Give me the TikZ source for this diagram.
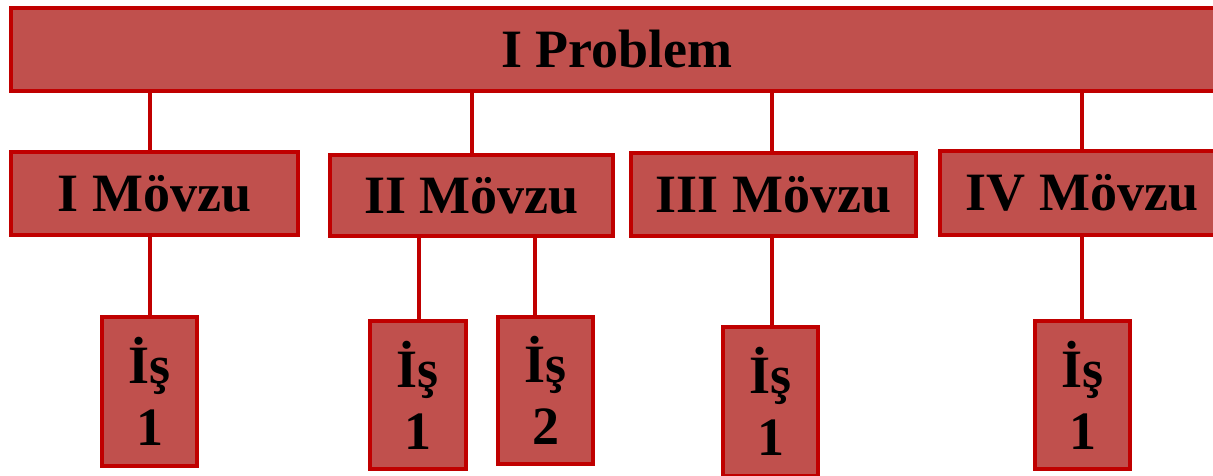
\documentclass[tikz,border=0pt]{standalone}
\usepackage{fontspec}
\setmainfont{Liberation Serif}
\definecolor{boxfill}{HTML}{C0504D}
\definecolor{boxline}{HTML}{C00000}
\tikzset{
  box/.style={draw=boxline, fill=boxfill, line width=4pt, rectangle, inner sep=0pt,
    font=\bfseries\fontsize{54}{62}\selectfont, align=center, text=black},
  link/.style={draw=boxline, line width=4pt}
}
\begin{document}
\begin{tikzpicture}[x=1pt,y=1pt]
\useasboundingbox (0,0) rectangle (1213,-475);
\fill[white] (0,0) rectangle (1213,-475);
\clip (0,0) rectangle (1213,-475);
% connector x positions
\coordinate (x1) at (150,0);
\coordinate (x2) at (472,0);
\coordinate (x21) at (419,0);
\coordinate (x22) at (535,0);
\coordinate (x3) at (772,0);
\coordinate (x4) at (1082,0);
% nodes
\node[box, minimum width=1212pt, minimum height=83pt] (top) at (617,-49.5) {I Problem};
\node[box, minimum width=287pt, minimum height=83pt] (m1) at (154.5,-193.5) {I Mövzu};
\node[box, minimum width=283pt, minimum height=81pt] (m2) at (471.5,-195.5) {II Mövzu};
\node[box, minimum width=285pt, minimum height=83pt] (m3) at (773.5,-194.5) {III Mövzu};
\node[box, minimum width=284pt, minimum height=84pt] (m4) at (1082,-193) {IV Mövzu};
\node[box, minimum width=95pt, minimum height=149pt] (c1) at (149.5,-391.5) {İş\\1};
\node[box, minimum width=96pt, minimum height=148pt] (c21) at (418,-395) {İş\\1};
\node[box, minimum width=95pt, minimum height=147pt] (c22) at (545.5,-390.5) {İş\\2};
\node[box, minimum width=95pt, minimum height=149pt] (c3) at (770.5,-401.5) {İş\\1};
\node[box, minimum width=95pt, minimum height=148pt] (c4) at (1082.5,-395) {İş\\1};
% connectors
\draw[link] (top.south -| x1) -- (m1.north -| x1);
\draw[link] (top.south -| x2) -- (m2.north -| x2);
\draw[link] (top.south -| x3) -- (m3.north -| x3);
\draw[link] (top.south -| x4) -- (m4.north -| x4);
\draw[link] (m1.south -| x1) -- (c1.north -| x1);
\draw[link] (m2.south -| x21) -- (c21.north -| x21);
\draw[link] (m2.south -| x22) -- (c22.north -| x22);
\draw[link] (m3.south -| x3) -- (c3.north -| x3);
\draw[link] (m4.south -| x4) -- (c4.north -| x4);
\end{tikzpicture}
\end{document}
